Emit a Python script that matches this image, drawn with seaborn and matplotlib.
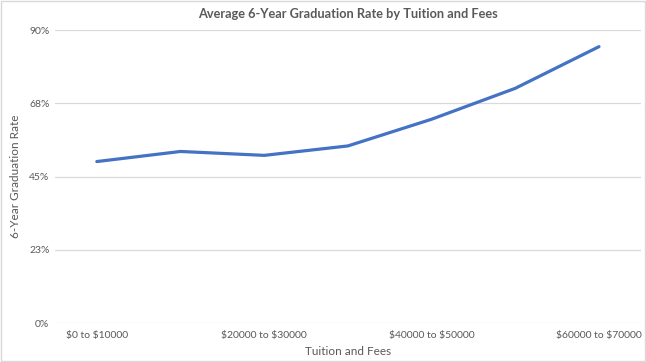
import matplotlib
matplotlib.use("Agg")
import matplotlib.pyplot as plt
import seaborn as sns
import pandas as pd

# tuition brackets and average 6-year graduation rates (%)
tuition = ["$0 to $10000", "$10000 to $20000", "$20000 to $30000",
           "$30000 to $40000", "$40000 to $50000", "$50000 to $60000",
           "$60000 to $70000"]
grad_rate = [49.6, 52.7, 51.5, 54.4, 62.6, 72.1, 84.9]
y_ticks = [0, 22.5, 45, 67.5, 90]
y_tick_labels = ["0%", "23%", "45%", "68%", "90%"]

df = pd.DataFrame({"Tuition": tuition, "Rate": grad_rate})

sns.set_theme(style="white")
plt.rcParams["font.family"] = ["Lato", "DejaVu Sans"]
plt.rcParams["text.parse_math"] = False

fig = plt.figure(figsize=(6.46, 3.62), dpi=100)
ax = fig.add_axes([0.0851, 0.1077, 0.9069, 0.8093])

sns.lineplot(data=df, x="Tuition", y="Rate", color="#4472C4", linewidth=2.3,
             sort=False, ax=ax)

ax.set_xlim(-0.5, len(tuition) - 0.5)
ax.set_ylim(0, 90)
ax.set_yticks(y_ticks)
ax.set_yticklabels(y_tick_labels)
ax.set_xticks(range(len(tuition)))
ax.set_xticklabels([t if i % 2 == 0 else "" for i, t in enumerate(tuition)])
ax.tick_params(axis="y", length=0, labelsize=7.5, colors="#595959", pad=4)
ax.tick_params(axis="x", length=0, labelsize=7.5, colors="#595959", pad=6)
ax.grid(axis="y", color="#D9D9D9", linewidth=0.9)
ax.set_axisbelow(True)
for s in ["top", "right", "left", "bottom"]:
    ax.spines[s].set_visible(False)

ax.set_xlabel("Tuition and Fees", fontsize=8.5, color="#595959", labelpad=4)
ax.set_ylabel("6-Year Graduation Rate", fontsize=8.5, color="#595959", labelpad=6)
fig.text(0.539, 0.962, "Average 6-Year Graduation Rate by Tuition and Fees",
         ha="center", va="center", fontsize=9.2, fontweight="bold", color="#595959")

# chart border
fig.patches.append(plt.Rectangle((0.001, 0.002), 0.997, 0.995, transform=fig.transFigure,
                                 fill=False, edgecolor="#D9D9D9", linewidth=1))

fig.savefig("out.png", dpi=100)
